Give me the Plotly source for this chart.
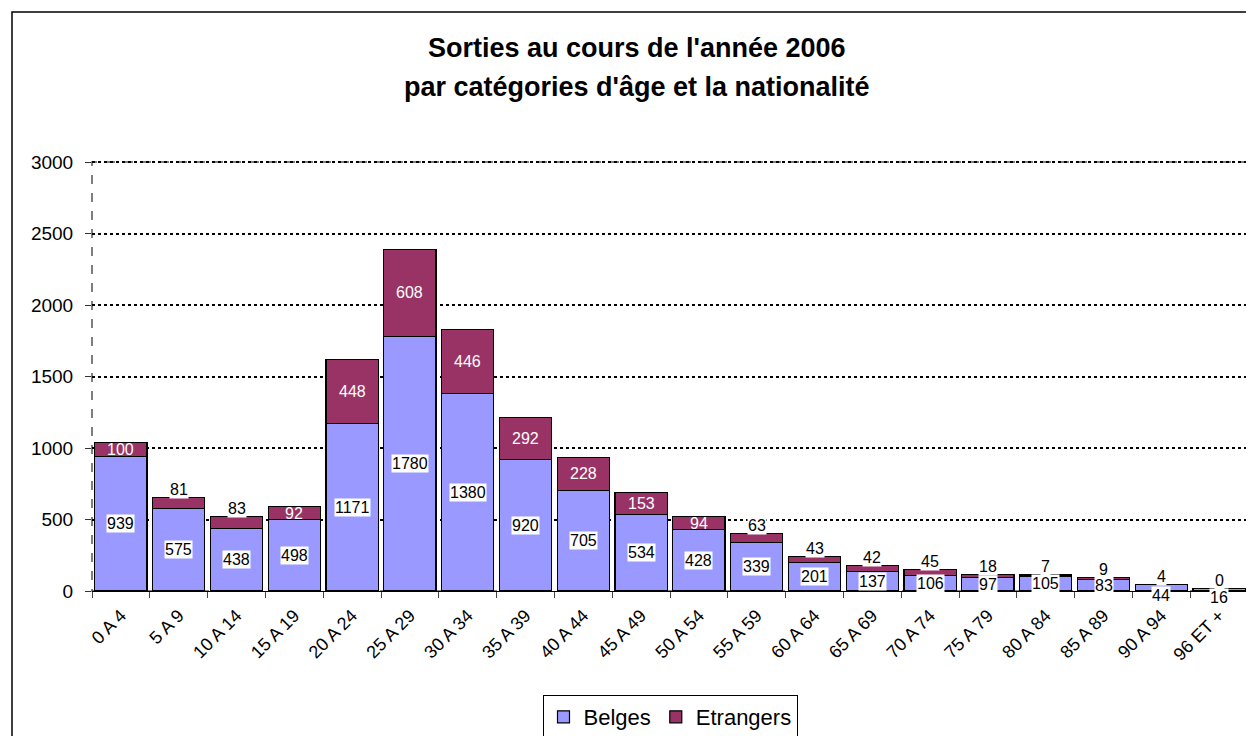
import plotly.graph_objects as go

categories = ["0 A 4", "5 A 9", "10 A 14", "15 A 19", "20 A 24", "25 A 29", "30 A 34",
              "35 A 39", "40 A 44", "45 A 49", "50 A 54", "55 A 59", "60 A 64", "65 A 69",
              "70 A 74", "75 A 79", "80 A 84", "85 A 89", "90 A 94", "96 ET +"]
belges = [939, 575, 438, 498, 1171, 1780, 1380, 920, 705, 534, 428, 339, 201, 137, 106, 97, 105, 83, 44, 16]
etrangers = [100, 81, 83, 92, 448, 608, 446, 292, 228, 153, 94, 63, 43, 42, 45, 18, 7, 9, 4, 0]
title_lines = ["Sorties au cours de l'année 2006", "par catégories d'âge et la nationalité"]

W, H = 1254, 736
OFF = 8  # page body margin
# plot area in page pixels: x 92..1248, y 162..591
L, T = 92 - OFF, 162 - OFF
R = W - (1248 - OFF)
B = H - (591 - OFF)
pw, ph = W - L - R, H - T - B

def px2x(px):
    return (px - OFF - L) / pw

def py2y(py):
    return (H - B - (py - OFF)) / ph

fig = go.Figure()
fig.add_trace(go.Bar(x=categories, y=belges, name="Belges",
                     marker=dict(color="#9999FF", line=dict(color="black", width=1.2))))
fig.add_trace(go.Bar(x=categories, y=etrangers, name="Etrangers",
                     marker=dict(color="#993366", line=dict(color="black", width=1.2))))

ann = []
for c, b, e in zip(categories, belges, etrangers):
    ann.append(dict(x=c, y=b / 2, text=str(b), showarrow=False, bgcolor="white",
                    font=dict(size=16, color="black", family="Arial"),
                    borderpad=0, yshift=(-8 if b < 60 else 0)))
    if e >= 90:
        ann.append(dict(x=c, y=b + e / 2, text=str(e), showarrow=False,
                        font=dict(size=16, color="white", family="Arial")))
    else:
        ann.append(dict(x=c, y=b + e, text=str(e), showarrow=False, bgcolor="white",
                        borderpad=0, yshift=8,
                        font=dict(size=16, color="black", family="Arial")))

for line, ypx in zip(title_lines, [48, 87]):
    ann.append(dict(xref="paper", yref="paper", x=px2x(637), y=py2y(ypx),
                    xanchor="center", yanchor="middle", showarrow=False,
                    text="<b>" + line + "</b>",
                    font=dict(size=27, family="Arial", color="black")))

fig.update_layout(
    width=W, height=H,
    margin=dict(l=L, r=R, t=T, b=B, autoexpand=False),
    paper_bgcolor="white", plot_bgcolor="white",
    barmode="stack", bargap=0.1,
    font=dict(family="Arial", color="black"),
    xaxis=dict(tickangle=-45, tickfont=dict(size=18, family="Arial"), ticks="outside",
               ticklen=6, tickson="boundaries", showline=True, linecolor="black",
               linewidth=1, showgrid=False, automargin=False, ticklabelstandoff=6),
    yaxis=dict(range=[0, 3000], dtick=500, tickfont=dict(size=19, family="Arial"),
               ticks="outside", ticklen=6, tickcolor="#333333", showline=False,
               showgrid=True, gridcolor="black", griddash="dot", gridwidth=2,
               zeroline=False, automargin=False, ticklabelstandoff=8),
    legend=dict(orientation="h", x=px2x(670), xanchor="center", y=py2y(695), yanchor="top",
                bordercolor="black", borderwidth=1, bgcolor="white", traceorder="normal",
                font=dict(size=22, family="Arial")),
    annotations=ann,
    shapes=[
        dict(type="rect", xref="paper", yref="paper", x0=0, x1=1, y0=0, y1=1,
             line=dict(color="#555555", width=1.5, dash="dash"), layer="below"),
        dict(type="line", xref="paper", yref="paper", x0=0, x1=1, y0=1, y1=1,
             line=dict(color="black", width=2, dash="dot"), layer="above"),
        dict(type="rect", xref="paper", yref="paper", x0=px2x(12), x1=px2x(W + 20),
             y0=py2y(H + 20), y1=py2y(12), line=dict(color="black", width=1.5)),
    ],
)

fig.write_html("out.html")
